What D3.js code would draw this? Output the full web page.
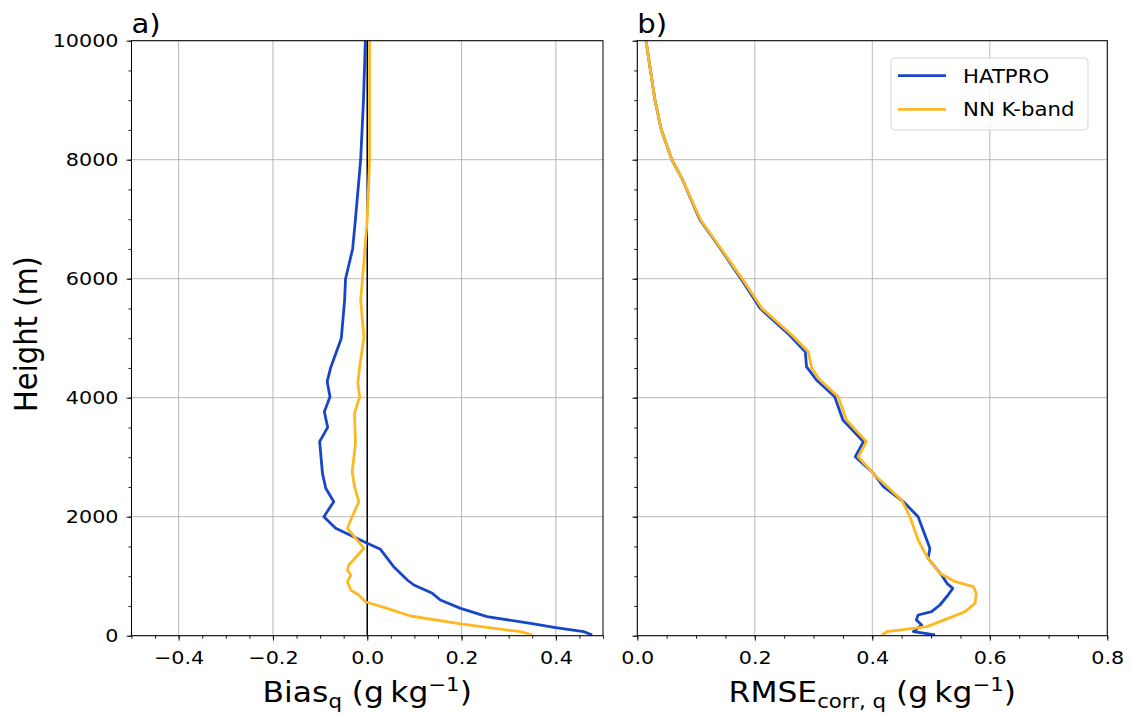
<!DOCTYPE html>
<html><head><meta charset="utf-8">
<script src="https://cdn.jsdelivr.net/npm/d3@7"></script>
<style>body{margin:0;background:#fff}svg{font-family:"DejaVu Sans",sans-serif}</style>
</head><body><svg id="c" width="1131" height="714"></svg>
<script>
// Panel a: bias profiles
const biasHatproH = [10000,9000,8000,7000,6500,6000,5642,4998,4494,4269,4017,3765,3502,3261,2729,2477,2252,2000,1805,1664,1553,1452,1160,936,852,712,600,460,320,197,141,68,12];
const biasHatproV = [-0.004,-0.008,-0.014,-0.025,-0.031,-0.046,-0.048,-0.055,-0.078,-0.085,-0.079,-0.091,-0.084,-0.101,-0.095,-0.088,-0.071,-0.092,-0.067,-0.029,0.0,0.028,0.056,0.085,0.099,0.138,0.155,0.198,0.254,0.353,0.396,0.459,0.477];
const biasNNH = [10000,9000,8000,7000,6000,5642,5025,4521,4242,4017,3738,3234,2756,2504,2252,1945,1805,1469,1188,1104,1020,908,768,684,571,460,331,197,141,67,12];
const biasNNV = [0.005,0.005,0.005,0.0,-0.01,-0.014,-0.007,-0.016,-0.02,-0.016,-0.027,-0.025,-0.032,-0.027,-0.018,-0.035,-0.042,-0.007,-0.039,-0.042,-0.035,-0.042,-0.035,-0.018,-0.004,0.042,0.092,0.198,0.254,0.325,0.35];
// Panel b: RMSE profiles
const rmseHatproH = [10000,9003,8499,7995,7687,7000,6483,6006,5502,5054,4773,4521,4297,4017,3625,3261,3008,2729,2504,2252,2000,1469,1301,1020,880,796,684,516,404,348,264,180,68,12];
const rmseHatproV = [0.0148,0.030,0.041,0.059,0.076,0.106,0.143,0.176,0.209,0.259,0.286,0.288,0.305,0.336,0.350,0.385,0.371,0.402,0.419,0.453,0.478,0.498,0.495,0.518,0.527,0.537,0.529,0.515,0.501,0.478,0.475,0.484,0.470,0.507];
const rmseNNH = [10000,9003,8499,7995,7687,7000,6483,6006,5502,5054,4773,4494,4297,4017,3625,3261,3008,2672,2281,2000,1608,1328,1049,908,824,712,545,404,236,152,67,12];
const rmseNNV = [0.0148,0.030,0.041,0.059,0.076,0.107,0.144,0.178,0.212,0.263,0.291,0.297,0.311,0.342,0.356,0.390,0.376,0.407,0.450,0.464,0.478,0.493,0.515,0.541,0.572,0.577,0.575,0.558,0.515,0.493,0.425,0.416];

const seriesNames = ["HATPRO","NN K-band"];
const colors = ["#1746c8","#fdb924"];
const yTicks = [0,2000,4000,6000,8000,10000];
const xTicksA = [-0.4,-0.2,0.0,0.2,0.4];
const xTicksB = [0.0,0.2,0.4,0.6,0.8];

const SX = 1.12; // horizontal text stretch of the reference
const svg = d3.select("#c");
const yTop = 40.7, yBot = 635.7;
const y = d3.scaleLinear().domain([0,10000]).range([yBot, yTop]);

function stext(parent, x, yy, size, anchor){
  return parent.append("text").attr("transform",`translate(${x},${yy}) scale(${SX},1)`)
    .attr("font-size",size).attr("text-anchor",anchor||"start").attr("fill","#000");
}

function panel(x0, x1, domain, xTicks, showYLabels, lines, letter, xlabelParts, legend){
  const x = d3.scaleLinear().domain(domain).range([x0, x1]);
  const g = svg.append("g");
  g.selectAll(".gx").data(xTicks).join("line")
    .attr("x1", d=>x(d)).attr("x2", d=>x(d)).attr("y1", yTop).attr("y2", yBot)
    .attr("stroke","#b0b0b0").attr("stroke-width",0.9);
  g.selectAll(".gy").data(yTicks).join("line")
    .attr("x1", x0).attr("x2", x1).attr("y1", d=>y(d)).attr("y2", d=>y(d))
    .attr("stroke","#b0b0b0").attr("stroke-width",0.9);
  if (domain[0] < 0) {
    g.append("line").attr("x1", x(0)).attr("x2", x(0)).attr("y1", yTop).attr("y2", yBot)
      .attr("stroke","#000").attr("stroke-width",1.5);
  }
  const line = d3.line().x(d=>x(d[1])).y(d=>y(d[0]));
  lines.forEach((s,i)=>{
    const pts = s.h.map((h,j)=>[h, s.v[j]]);
    g.append("path").datum(pts).attr("d", line).attr("fill","none")
      .attr("stroke", colors[i]).attr("stroke-width",2.8).attr("stroke-linejoin","round");
  });
  const ax = d3.axisBottom(x).tickValues(xTicks).tickFormat(d=>d3.format(".1f")(d).replace("-","\u2212")).tickSize(5).tickPadding(10);
  const axm = d3.axisBottom(x).tickValues(d3.range(Math.round(domain[0]*20), Math.round(domain[1]*20)+1).map(k=>k/20)).tickFormat("").tickSize(3);
  const ay = d3.axisLeft(y).tickValues(yTicks).tickFormat(showYLabels ? d3.format("d") : "").tickSize(5).tickPadding(8);
  const aym = d3.axisLeft(y).tickValues(d3.range(0,10001,500)).tickFormat("").tickSize(3);
  [ [ax,"x"],[axm,"x"],[ay,"y"],[aym,"y"] ].forEach(([a,t])=>{
    const ag = g.append("g").attr("transform", t==="x" ? `translate(0,${yBot})` : `translate(${x0},0)`).call(a);
    ag.select(".domain").remove();
    ag.selectAll("line").attr("stroke","#000").attr("stroke-width",0.9);
    ag.selectAll("text").attr("font-size",18.5).attr("fill","#000").attr("font-family","DejaVu Sans")
      .attr("transform",`scale(${SX},1)`);
    if (t==="y") ag.selectAll("text").attr("x", -13/SX);
  });
  g.append("rect").attr("x",x0).attr("y",yTop).attr("width",x1-x0).attr("height",yBot-yTop)
    .attr("fill","none").attr("stroke","#000").attr("stroke-width",1);
  stext(g, x0, 33, 26).text(letter);
  const t = stext(g, (x0+x1)/2, 702, 28, "middle");
  xlabelParts.forEach(p=>{
    const ts = t.append("tspan").text(p.t);
    if (p.sub) ts.attr("font-size",19).attr("dy",6);
    if (p.after) ts.attr("dy",-6);
    if (p.sup) ts.attr("font-size",19).attr("dy",-11);
    if (p.afterSup) ts.attr("dy",11);
  });
  if (legend) {
    const lg = g.append("g");
    lg.append("rect").attr("x",891).attr("y",58).attr("width",197).attr("height",72).attr("rx",4)
      .attr("fill","#fff").attr("fill-opacity",0.85).attr("stroke","#d6d6d6");
    seriesNames.forEach((n,i)=>{
      const yy = 75.7 + i*33.6;
      lg.append("line").attr("x1",898).attr("x2",946).attr("y1",yy).attr("y2",yy)
        .attr("stroke",colors[i]).attr("stroke-width",2.8);
      stext(lg, 963, yy+7, 19).text(n);
    });
  }
}

panel(131.5, 603, [-0.5,0.5], xTicksA, true,
  [{h:biasHatproH, v:biasHatproV},{h:biasNNH, v:biasNNV}], "a)",
  [{t:"Bias"},{t:"q",sub:true},{t:" (g\u2009kg",after:true},{t:"\u22121",sup:true},{t:")",afterSup:true}], false);
panel(637.3, 1107.3, [0,0.8], xTicksB, false,
  [{h:rmseHatproH, v:rmseHatproV},{h:rmseNNH, v:rmseNNV}], "b)",
  [{t:"RMSE"},{t:"corr, q",sub:true},{t:" (g\u2009kg",after:true},{t:"\u22121",sup:true},{t:")",afterSup:true}], true);

svg.append("text").attr("transform",`translate(36.5,334) scale(${SX},1) rotate(-90)`).attr("text-anchor","middle")
  .attr("font-size",29).text("Height (m)");
</script></body></html>
